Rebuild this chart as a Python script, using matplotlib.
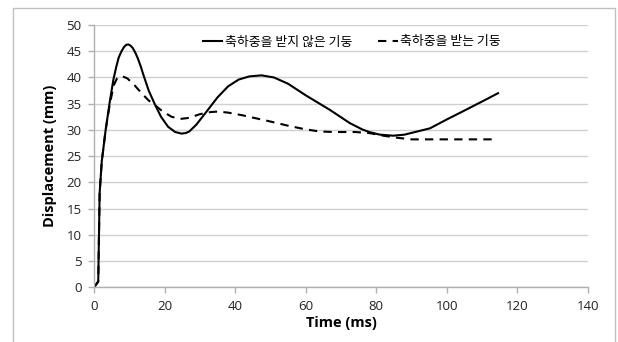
import matplotlib
matplotlib.use("Agg")
import matplotlib.pyplot as plt
from matplotlib.patches import Rectangle

# ---- data ----
time_solid = [0, 1.2, 1.6, 2.2, 3.3, 4.5, 5.5, 6.3, 7, 7.8, 8.5, 9.1, 9.7, 10.3, 11, 11.8, 12.5,
              13.3, 14, 15.5, 17.3, 19, 21, 23, 24.8, 26, 27, 29, 31.9, 35, 38, 41, 44,
              47.5, 51, 55, 60, 66.9, 72.5, 76, 78, 81, 84.8, 88, 91, 95.2, 100, 105, 110.8, 114.5]
disp_solid = [0, 1.1, 18, 24, 30, 35.5, 39.6, 42.0, 43.8, 45.0, 45.8, 46.2, 46.3, 46.1, 45.6, 44.6, 43.5,
              42.0, 40.5, 37.5, 34.8, 32.5, 30.6, 29.6, 29.3, 29.4, 29.7, 31.0, 33.5, 36.2, 38.3, 39.6, 40.2,
              40.4, 40.0, 38.8, 36.6, 33.8, 31.3, 30.1, 29.6, 29.1, 28.9, 29.1, 29.6, 30.3, 32.0, 33.7, 35.7, 37.0]

time_dash = [0, 1.2, 1.6, 2.2, 3.3, 4.5, 5.6, 6.5, 7.8, 9.5, 11.5, 13.5, 15.5, 17.3,
             19.5, 22, 24.5, 27, 30, 33, 35, 38, 42, 46, 50, 55, 60, 64, 68, 74,
             78, 82, 86, 90, 100, 113.6]
disp_dash = [0, 1.1, 18, 24, 30, 35, 38.5, 39.8, 40.3, 39.8, 38.5, 37.0, 35.6, 34.7,
             33.5, 32.5, 32.1, 32.3, 33.0, 33.4, 33.5, 33.3, 32.8, 32.2, 31.6, 30.8, 30.1, 29.7, 29.6, 29.6,
             29.4, 28.9, 28.5, 28.2, 28.2, 28.2]

label_solid = "축하중을 받지 않은 기둥"
label_dash = "축하중을 받는 기둥"
xticks = [0, 20, 40, 60, 80, 100, 120, 140]
yticks = [0, 5, 10, 15, 20, 25, 30, 35, 40, 45, 50]

plt.rcParams['font.family'] = ['Open Sans', 'Noto Sans CJK KR', 'DejaVu Sans']

fig = plt.figure(figsize=(6.18, 3.42), dpi=100)
W, H = 618, 342
ax = fig.add_axes([94 / W, 1 - 287.3 / H, (588 - 94) / W, (287.3 - 25) / H])

ax.plot(time_solid, disp_solid, color='black', lw=1.5, label=label_solid,
        solid_joinstyle='round')
ax.plot(time_dash, disp_dash, color='black', lw=1.5, ls=(0, (4, 3)), label=label_dash)

ax.set_xlim(0, 140)
ax.set_ylim(0, 50)
ax.set_xticks(xticks)
ax.set_yticks(yticks)
ax.grid(axis='y', color='#d0d0d0', lw=1)
ax.set_axisbelow(True)
for s in ['top', 'right']:
    ax.spines[s].set_visible(False)
for s in ['left', 'bottom']:
    ax.spines[s].set_color('#b0b0b0')
    ax.spines[s].set_linewidth(1)
ax.tick_params(axis='both', colors='#b0b0b0', labelcolor='#222222', labelsize=9.5,
               length=4, width=1, direction='out')
ax.tick_params(axis='y', pad=5)
ax.tick_params(axis='x', pad=5)

ax.set_xlabel("Time (ms)", fontsize=10.5, fontweight='bold', labelpad=2)
ax.set_ylabel("Displacement (mm)", fontsize=10.5, fontweight='bold', labelpad=7)

leg = fig.legend(loc='center', bbox_to_anchor=(352 / W, 1 - 42 / H), ncol=2, frameon=False,
                 prop={'family': ['Noto Sans CJK KR', 'DejaVu Sans'], 'size': 9.3},
                 handlelength=1.5, handletextpad=0.2, columnspacing=2.0)

fig.patches.append(Rectangle((13 / W, -0.1), (615 - 13) / W, 1 - 8 / H + 0.1,
                             transform=fig.transFigure, fill=False,
                             edgecolor='#c0c0c0', lw=1))

fig.savefig("out.png", dpi=100)
